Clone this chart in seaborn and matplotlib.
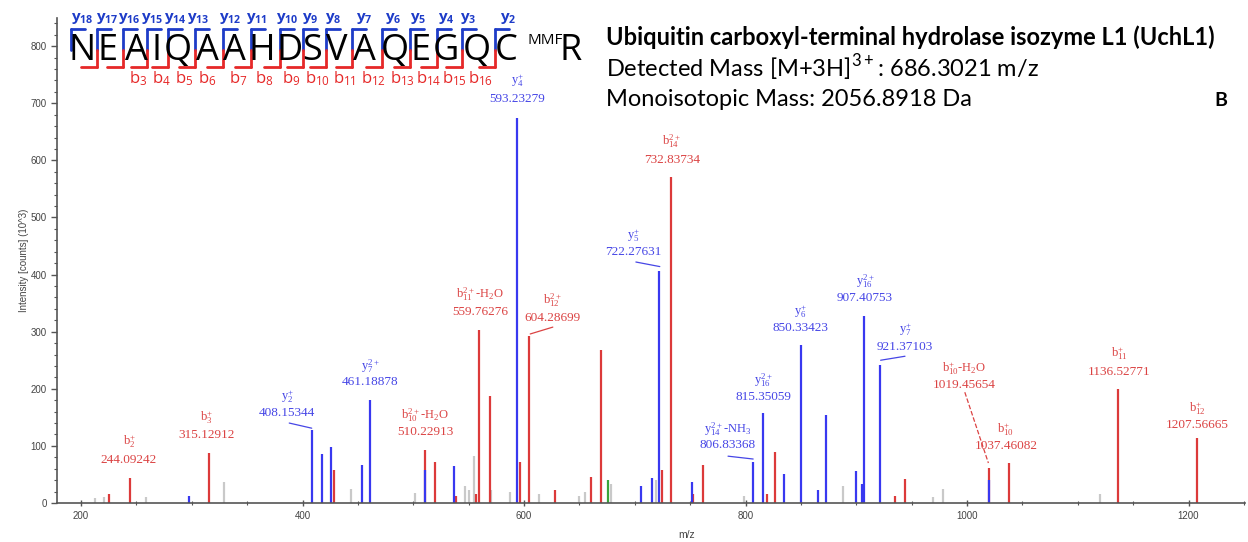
import numpy as np
import pandas as pd
import matplotlib
matplotlib.use("Agg")
import matplotlib.pyplot as plt
import seaborn as sns

# ---------------- data ----------------
blue_mz = [297.5, 408.15, 417.2, 425.8, 453.4, 461.19, 510.5, 537.0, 593.23, 705.4, 716.0,
           722.28, 751.7, 806.83, 815.35, 835.0, 850.33, 865.0, 872.9, 900.0, 905.0,
           907.41, 921.37, 1020.0]
blue_int = [13, 128, 85, 98, 66, 181, 57, 64, 675, 29, 43,
            406, 37, 71, 157, 50, 277, 22, 154, 56, 34,
            327, 242, 41]

red_mz = [225.0, 244.09, 315.13, 428.3, 510.23, 519.7, 538.8, 557.0, 559.76, 568.9, 596.5,
          604.29, 627.7, 660.4, 669.1, 724.9, 732.84, 752.5, 762.0, 819.0, 826.5, 934.6,
          944.0, 1019.46, 1037.46, 1136.53, 1207.57]
red_int = [16, 44, 87, 57, 92, 72, 13, 15, 303, 188, 71,
           293, 23, 46, 268, 57, 570, 15, 67, 15, 90, 13,
           42, 61, 70, 200, 114]

gray_mz = [212.8, 220.7, 258.8, 329.5, 444.0, 502.0, 546.8, 550.0, 555.0, 570.0, 587.0,
           613.8, 649.5, 654.7, 678.8, 719.0, 799.0, 888.0, 969.0, 978.4, 1120.4]
gray_int = [9, 10, 10, 36, 25, 18, 30, 23, 83, 23, 19,
            15, 13, 19, 33, 40, 13, 30, 10, 25, 15]

green_mz = [675.4]
green_int = [40]

# peak annotations: (ion label, m/z text, colour key)
ann_ion = [r"$\mathregular{b_2^{+}}$", r"$\mathregular{b_3^{+}}$", r"$\mathregular{y_2^{+}}$",
           r"$\mathregular{y_7^{2+}}$", r"$\mathregular{b_{10}^{2+}}$-H$\mathregular{_2}$O",
           r"$\mathregular{b_{11}^{2+}}$-H$\mathregular{_2}$O", r"$\mathregular{y_4^{+}}$",
           r"$\mathregular{b_{12}^{2+}}$", r"$\mathregular{y_5^{+}}$", r"$\mathregular{b_{14}^{2+}}$",
           r"$\mathregular{y_{14}^{2+}}$-NH$\mathregular{_3}$", r"$\mathregular{y_{16}^{2+}}$",
           r"$\mathregular{y_6^{+}}$", r"$\mathregular{y_{16}^{2+}}$", r"$\mathregular{y_7^{+}}$",
           r"$\mathregular{b_{10}^{+}}$-H$\mathregular{_2}$O", r"$\mathregular{b_{10}^{+}}$",
           r"$\mathregular{b_{11}^{+}}$", r"$\mathregular{b_{12}^{+}}$"]
ann_mz = ["244.09242", "315.12912", "408.15344", "461.18878", "510.22913", "559.76276",
          "593.23279", "604.28699", "722.27631", "732.83734", "806.83368", "815.35059",
          "850.33423", "907.40753", "921.37103", "1019.45654", "1037.46082", "1136.52771",
          "1207.56665"]
ann_kind = ["b", "b", "y", "y", "b", "b", "y", "b", "y", "b", "y", "y", "y", "y", "y", "b", "b", "b", "b"]

# sequence header
seq_letters = list("NEAIQAAHDSVAQEGQC") + ["R"]
seq_mod = "MMF"
y_ion_names = [f"y{n}" for n in range(18, 1, -1)]
b_ion_names = [f"b{n}" for n in range(3, 17)]

title_lines = ["Ubiquitin carboxyl-terminal hydrolase isozyme L1 (UchL1)",
               r"Detected Mass [M+3H]$^{\mathregular{3+}}$: 686.3021 m/z",
               "Monoisotopic Mass: 2056.8918 Da"]
panel_letter = "B"

# ---------------- layout (pixels / data positions) ----------------
W, H = 1248, 542
ann_x = [243.3, 313.0, 386.0, 461.0, 510.6, 560.3, 593.7, 626.0, 698.4, 733.6, 784.2,
         815.8, 850.0, 907.9, 944.0, 997.3, 1035.0, 1137.2, 1207.7]
ann_y1 = [107, 149, 187, 240, 154, 366, 739, 355, 469, 634, 130, 215, 336, 389, 303, 236, 128, 261, 166]
ann_y2 = [75, 119, 158, 212, 124, 334, 707, 324, 440, 601, 102, 186, 306, 359, 273, 207, 100, 229, 137]
leaders = [(2, 388.0, 140, 408.3, 131, "-"), (7, 605.6, 296, 626.0, 308, "-"),
           (8, 701.0, 422, 722.6, 414, "-"), (10, 784.2, 82, 806.9, 77, "-"),
           (14, 922.0, 250, 944.0, 257, "-"), (15, 998.0, 194, 1019.3, 70, "--")]

letter_x = [82, 108, 136, 157, 178, 207, 234, 262, 290, 312, 337, 364, 395, 421, 446, 477, 506, 571]
mod_x = 545
gap_x = [71, 97, 123, 147, 168, 195, 223, 251, 280, 303, 326, 352, 382, 410, 437, 462, 495]
y_lab_x = [82, 107, 129, 152, 175, 198, 230, 257, 287, 310, 333, 364, 393, 418, 446, 468, 508]
b_lab_x = [138, 161, 184, 207, 238, 264, 291, 318, 345, 374, 402, 429, 454, 481]

BLUE_LINE = "#3838f0"
RED_LINE = "#dc3a3a"
GRAY_LINE = "#c9c9c9"
GREEN_LINE = "#3aa53a"
BLUE_TXT = "#4646e6"
RED_TXT = "#db4343"
SEQ_BLUE = "#1e3cc8"
SEQ_RED = "#e62828"
SEQ_FONT = ["Liberation Sans Narrow", "Open Sans"]

sns.set_theme(style="ticks")
plt.rcParams["font.family"] = ["Liberation Sans", "DejaVu Sans"]

fig = plt.figure(figsize=(W / 100, H / 100), dpi=100)
ax = fig.add_axes([57 / W, 39 / H, 1188 / W, 485.4 / H])

df = pd.concat([
    pd.DataFrame({"mz": gray_mz, "intensity": gray_int, "ion": "other"}),
    pd.DataFrame({"mz": green_mz, "intensity": green_int, "ion": "iso"}),
    pd.DataFrame({"mz": red_mz, "intensity": red_int, "ion": "b"}),
    pd.DataFrame({"mz": blue_mz, "intensity": blue_int, "ion": "y"}),
], ignore_index=True)
palette = {"other": GRAY_LINE, "iso": GREEN_LINE, "b": RED_LINE, "y": BLUE_LINE}
for ion, sub in df.groupby("ion", sort=False):
    ax.vlines(sub["mz"], 0, sub["intensity"], colors=palette[ion], lw=1.6, zorder=2)
sns.despine(ax=ax)

ax.set_xlim(178.3, 1251)
ax.set_ylim(0, 850)
ax.set_xticks([200, 400, 600, 800, 1000, 1200])
ax.set_xticks(np.arange(250, 1251, 50), minor=True)
ax.set_yticks(np.arange(0, 801, 100))
ax.set_yticks(np.arange(0, 841, 20), minor=True)
for s in ("left", "bottom"):
    ax.spines[s].set_color("#555555")
    ax.spines[s].set_linewidth(1.2)
ax.tick_params(axis="both", which="major", labelsize=7, colors="#555555", labelcolor="#444444", length=4, width=1)
ax.tick_params(axis="both", which="minor", length=2.5, width=0.8, colors="#555555")
ax.tick_params(axis="x", which="both", direction="inout")
ax.set_xlabel("m/z", fontsize=7.5, color="#444444")
ax.xaxis.label.set_va("center")
ax.xaxis.set_label_coords((687 - 57) / 1188, (503 - 535) / 485.4)
ax.set_ylabel("Intensity [counts] (10^3)", fontsize=7, color="#444444", labelpad=1)

for i in range(len(ann_ion)):
    col = BLUE_TXT if ann_kind[i] == "y" else RED_TXT
    ax.text(ann_x[i], ann_y1[i], ann_ion[i], ha="center", va="center", fontsize=9,
            family="Liberation Serif", color=col)
    ax.text(ann_x[i], ann_y2[i], ann_mz[i], ha="center", va="center", fontsize=9.5,
            family="Liberation Serif", color=col)
for idx, x0, y0, x1, y1, ls in leaders:
    col = BLUE_TXT if ann_kind[idx] == "y" else RED_TXT
    ax.plot([x0, x1], [y0, y1], color=col, lw=0.9, ls=ls, zorder=3)


def fx(px):
    return px / W


def fy(py):
    return 1 - py / H


for ch, x in zip(seq_letters, letter_x):
    fig.text(fx(x), fy(51), ch, ha="center", va="center", fontsize=26, family=SEQ_FONT, color="black")
fig.text(fx(mod_x), fy(40), seq_mod, ha="center", va="center", fontsize=11, family=SEQ_FONT, color="black")
for name, x in zip(y_ion_names, y_lab_x):
    fig.text(fx(x), fy(18), r"$\mathregular{y_{%s}}$" % name[1:], ha="center", va="center",
             fontsize=11, family=SEQ_FONT, weight="bold", color=SEQ_BLUE)
for name, x in zip(b_ion_names, b_lab_x):
    fig.text(fx(x), fy(79), r"$\mathregular{b_{%s}}$" % name[1:], ha="center", va="center",
             fontsize=12, family=SEQ_FONT, color=SEQ_RED)

for j, gx in enumerate(gap_x):
    fig.add_artist(plt.Line2D([fx(gx), fx(gx)], [fy(29), fy(50)], color=SEQ_BLUE, lw=2.0))
    fig.add_artist(plt.Line2D([fx(gx), fx(gx + 14)], [fy(29), fy(29)], color=SEQ_BLUE, lw=2.0))
for gx in gap_x[1:]:
    fig.add_artist(plt.Line2D([fx(gx), fx(gx)], [fy(50), fy(67)], color=SEQ_RED, lw=2.0))
    fig.add_artist(plt.Line2D([fx(gx), fx(gx - 16)], [fy(67), fy(67)], color=SEQ_RED, lw=2.0))

fig.text(fx(606), fy(37), title_lines[0], ha="left", va="center", fontsize=17, family="Lato",
         weight="bold", color="black")
fig.text(fx(606), fy(68), title_lines[1], ha="left", va="center", fontsize=17, family="Lato", color="black")
fig.text(fx(606), fy(99), title_lines[2], ha="left", va="center", fontsize=17, family="Lato", color="black")
fig.text(fx(1221), fy(101), panel_letter, ha="center", va="center", fontsize=14, family="Lato",
         weight="bold", color="black")

fig.savefig("out.png", dpi=100)
